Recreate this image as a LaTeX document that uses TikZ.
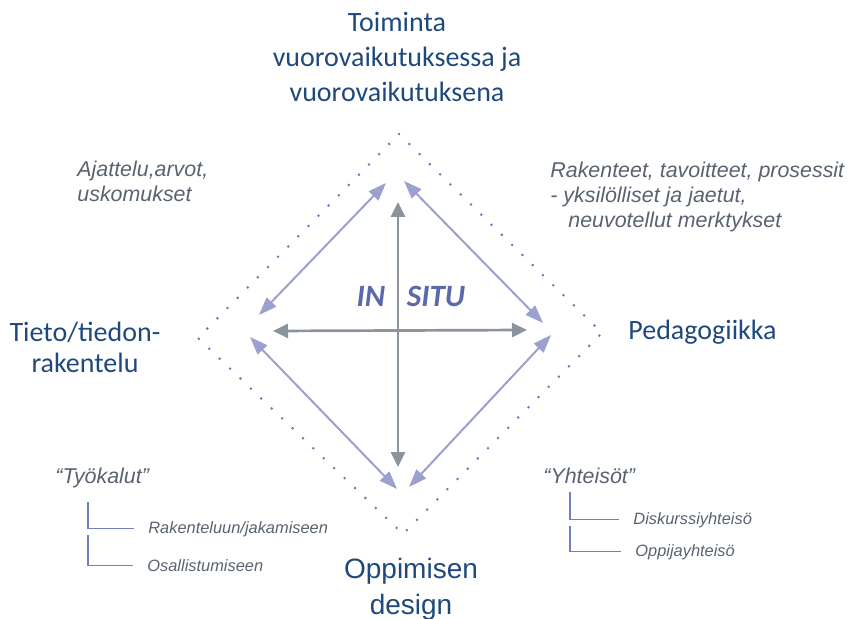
\documentclass[tikz,border=0pt]{standalone}
\usepackage{xcolor}
\usepackage{fontspec}
\setmainfont{Liberation Sans}
\newfontfamily\calibfont{Carlito}
\usepackage{tikz}
\usetikzlibrary{arrows.meta,positioning}
\definecolor{titleblue}{RGB}{31,73,125}
\definecolor{notegray}{RGB}{89,98,112}
\definecolor{arrowblue}{RGB}{155,160,206}
\definecolor{arrowgray}{RGB}{138,148,158}
\definecolor{dotpurple}{RGB}{120,110,190}
\definecolor{treeblue}{RGB}{110,128,190}
\definecolor{situblue}{RGB}{90,105,170}
\tikzstyle{mainlabel}=[inner sep=0pt, align=center, text=titleblue, font=\calibfont\fontsize{14pt}{17.5pt}\selectfont]
\tikzstyle{designlabel}=[inner sep=0pt, align=center, text=titleblue, font=\fontsize{14pt}{18pt}\selectfont]
\tikzstyle{notelabel}=[inner sep=0pt, align=left, text=notegray, font=\itshape\fontsize{10.7pt}{12.6pt}\selectfont]
\tikzstyle{subnote}=[inner sep=0pt, text=notegray, font=\itshape\fontsize{8.2pt}{9.6pt}\selectfont]
\tikzstyle{situlabel}=[inner sep=0pt, text=situblue, font=\calibfont\bfseries\itshape\fontsize{15.5pt}{18pt}\selectfont]
\tikzstyle{bluearrow}=[{Triangle[length=9pt,width=6.5pt]}-{Triangle[length=9pt,width=6.5pt]}, draw=arrowblue, line width=1pt]
\tikzstyle{grayarrow}=[{Triangle[length=7.5pt,width=7pt]}-{Triangle[length=7.5pt,width=7pt]}, draw=arrowgray, line width=1.35pt]
\tikzstyle{treeline}=[draw=treeblue, line width=0.6pt, shorten >=7pt]
\tikzstyle{dotframe}=[draw=dotpurple, line width=1.4pt, line cap=round, dash pattern=on 0pt off 7.2pt]

\begin{document}
\begin{tikzpicture}[x=0.5pt, y=-0.5pt]
    \useasboundingbox (0,0) rectangle (850,619);

    % dotted frame
    \draw[dotframe] (399,134) -- (602,333) -- (403,534) -- (198,338) -- cycle;

    % corner labels
    \node[mainlabel, anchor=base] (toiminta) at (397,102)
      {Toiminta\\vuorovaikutuksessa ja\\vuorovaikutuksena};
    \node[mainlabel, anchor=base, font=\calibfont\fontsize{14pt}{15.5pt}\selectfont] (tieto) at (85,373)
      {Tieto/tiedon-\\rakentelu};
    \node[mainlabel, anchor=base west] (pedagogiikka) at (628,340) {Pedagogiikka};
    \node[designlabel, anchor=base] (design) at (411,614) {Oppimisen\\design};

    % notes
    \node[notelabel, anchor=base west] (ajattelu) at (77,202) {Ajattelu,arvot,\\uskomukset};
    \node[notelabel, anchor=base west] (rakenteet) at (550,228)
      {Rakenteet, tavoitteet, prosessit\\- yksilölliset ja jaetut,\\\hspace*{9pt}neuvotellut merktykset};
    \node[situlabel, anchor=base] (in) at (371,307) {IN};
    \node[situlabel, anchor=base] (situ) at (436,307) {SITU};

    % arrow ends
    \coordinate (tlA) at (386,183);
    \coordinate (tlB) at (259,315);
    \coordinate (trA) at (404,181);
    \coordinate (trB) at (543,323);
    \coordinate (blA) at (250,337);
    \coordinate (blB) at (397,489);
    \coordinate (brA) at (551,335);
    \coordinate (brB) at (409,487);
    \coordinate (vtop) at (398,202);
    \coordinate (vbot) at (398,467);
    \coordinate (hleft) at (273,331);
    \coordinate (hright) at (527,330);

    \draw[bluearrow] (tlA) -- (tlB);
    \draw[bluearrow] (trA) -- (trB);
    \draw[bluearrow] (blA) -- (blB);
    \draw[bluearrow] (brA) -- (brB);
    \draw[grayarrow] (vtop) -- (vbot);
    \draw[grayarrow] (hleft) -- (hright);

    % Tyokalut
    \node[notelabel, anchor=base west] (tyokalut) at (55,483) {“Työkalut”};
    \node[subnote, anchor=base west] (rakenteluun) at (148,533) {Rakenteluun/jakamiseen};
    \node[subnote, anchor=base west] (osallistumiseen) at (147,571) {Osallistumiseen};
    \coordinate (tkA) at (88,502);
    \coordinate (tkB) at (88,535);
    \draw[treeline] (tkA) |- (rakenteluun.west);
    \draw[treeline] (tkB) |- (osallistumiseen.west);

    % Yhteisot
    \node[notelabel, anchor=base west] (yhteisot) at (543,483) {“Yhteisöt”};
    \node[subnote, anchor=base west] (diskurssi) at (633,524) {Diskurssiyhteisö};
    \node[subnote, anchor=base west] (oppija) at (635,556) {Oppijayhteisö};
    \coordinate (ytA) at (570,492);
    \coordinate (ytB) at (570,526);
    \draw[treeline] (ytA) |- (diskurssi.west);
    \draw[treeline] (ytB) |- (oppija.west);
  \end{tikzpicture}
\end{document}
